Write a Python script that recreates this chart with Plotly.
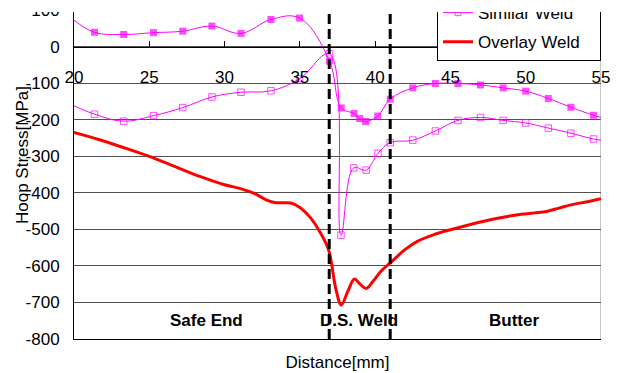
import plotly.graph_objects as go

# ---------------- data ----------------
x_range = [20, 55]
y_range = [-800, 100]
x_tick_vals = [20, 25, 30, 35, 40, 45, 50, 55]
x_tick_labels = ["20", "25", "30", "35", "40", "45", "50", "55"]
y_tick_vals = [100, 0, -100, -200, -300, -400, -500, -600, -700, -800]
y_tick_labels = ["100", "0", "-100", "-200", "-300", "-400", "-500", "-600", "-700", "-800"]

# filled-square series (its legend entry is cut off in the reference)
dissimilar_x = [20, 21.36, 23.3, 25.28, 27.22, 29.16, 31.09, 33.08, 34.98, 36.97, 37.75,
                38.6, 38.97, 39.37, 40.17, 41.0, 42.5, 44.0, 45.5, 47.0, 48.5, 50.0,
                51.5, 53.0, 54.5, 55.0]
dissimilar_y = [72, 39, 33, 38, 42, 56, 36, 74, 78, -40, -168,
                -183, -197, -205, -190, -144, -113, -101, -101, -105, -113, -122,
                -142, -166, -188, -194]

similar_x = [20, 21.36, 23.3, 25.28, 27.22, 29.16, 31.09, 33.08, 34.98, 36.97, 37.73,
             38.57, 39.4, 40.19, 41.0, 42.5, 44.0, 45.5, 47.0, 48.5, 50.0, 51.5,
             53.0, 54.5, 55.0]
similar_y = [-162, -185, -204, -189, -167, -138, -125, -121, -88, -20, -516,
             -332, -338, -292, -263, -256, -231, -202, -194, -202, -209, -223,
             -237, -253, -256]

overlay_x = [20, 21.7, 23.4, 25.1, 26.8, 28.4, 30.0, 31.0, 32.0, 32.8, 33.4, 34.4,
             35.0, 35.7, 36.3, 36.9, 37.4, 37.75, 38.2, 38.62, 39.0, 39.4, 39.9,
             40.4, 41.0, 42.0, 42.8, 44.0, 45.2, 46.4, 47.5, 48.6, 49.7, 50.6,
             51.4, 52.2, 53.0, 54.0, 55.0]
overlay_y = [-235, -255, -278, -302, -330, -356, -378, -388, -402, -420, -427, -428,
             -440, -468, -505, -555, -665, -707, -668, -636, -650, -662, -640,
             -614, -592, -555, -533, -513, -499, -486, -475, -466, -459, -455,
             -451, -442, -433, -425, -416]

zone_bounds = [36.95, 41.0]
zone_labels = ["Safe End", "D.S. Weld", "Butter"]
zone_label_x = [28.8, 38.9, 49.2]
zone_label_y = -750

# ---------------- layout geometry ----------------
W, H = 622, 373
ML, MR, MT, MB = 74, 21, 10, 34
PW, PH = W - ML - MR, H - MT - MB

FONT = "Liberation Sans, Arial, sans-serif"
MAGENTA = "#FF00FF"
RED = "#FF0000"


def px_to_paper_x(px):
    return (px - ML) / PW


def px_to_paper_y(py):
    return (H - MB - py) / PH


def edge_sizes(n, s):
    return [0] + [s] * (n - 2) + [0]


fig = go.Figure()

fig.add_trace(go.Scatter(
    x=dissimilar_x, y=dissimilar_y, name="Dissimilar Weld", legendgroup="g0",
    mode="lines+markers",
    line=dict(color=MAGENTA, width=1, shape="spline", smoothing=1.1),
    marker=dict(symbol="square", size=edge_sizes(len(dissimilar_x), 7), color=MAGENTA,
                line=dict(width=0)),
))

fig.add_trace(go.Scatter(
    x=similar_x, y=similar_y, name="Similar Weld", legendgroup="g1",
    mode="lines+markers",
    line=dict(color=MAGENTA, width=1, shape="spline", smoothing=1.1),
    marker=dict(symbol="square-open", size=edge_sizes(len(similar_x), 6.5), color=MAGENTA,
                line=dict(width=1)),
))

fig.add_trace(go.Scatter(
    x=overlay_x, y=overlay_y, name="Overlay Weld", xaxis="x2", legendgroup="g2",
    mode="lines",
    line=dict(color=RED, width=3, shape="spline", smoothing=1),
))

# zone boundaries (dashed vertical lines)
for xb in zone_bounds:
    fig.add_shape(type="line", xref="x", yref="paper", x0=xb, x1=xb, y0=0, y1=1,
                  line=dict(color="black", width=3, dash="10px,5px"), layer="above")

# right frame border
fig.add_shape(type="line", xref="x", yref="paper", x0=x_range[1], x1=x_range[1], y0=0, y1=1,
              line=dict(color="#b4b4b4", width=1.5), layer="below")

# zone labels
for lab, lx in zip(zone_labels, zone_label_x):
    fig.add_annotation(x=lx, y=zone_label_y, xref="x", yref="y", text=lab, showarrow=False,
                       font=dict(family=FONT, size=17, color="black", weight="bold"))

# y axis title
fig.add_annotation(x=px_to_paper_x(22), y=px_to_paper_y(155), xref="paper", yref="paper",
                   xanchor="center", yanchor="middle",
                   text="Hoop Stress[MPa]", textangle=-90, showarrow=False,
                   font=dict(family=FONT, size=17, color="black"))

# white band at the top (the reference picture is cropped there)
fig.add_annotation(x=px_to_paper_x(0), y=px_to_paper_y(0), xref="paper", yref="paper",
                   xanchor="left", yanchor="top", text=".", showarrow=False,
                   font=dict(size=6, color="white"),
                   width=W, height=12, bgcolor="white", borderpad=0, borderwidth=0)

zero_pos = (0 - y_range[0]) / (y_range[1] - y_range[0])

fig.update_layout(
    width=W, height=H,
    margin=dict(l=ML, r=MR, t=MT, b=MB, autoexpand=False),
    paper_bgcolor="white", plot_bgcolor="white",
    font=dict(family=FONT, size=16, color="black"),
    showlegend=True,
    legend=dict(x=1, xanchor="right", y=px_to_paper_y(61), yanchor="bottom",
                bgcolor="white", bordercolor="black", borderwidth=1,
                font=dict(family=FONT, size=17, color="black"),
                traceorder="grouped", tracegroupgap=4),
    xaxis=dict(range=x_range, showticklabels=False, ticks="", showgrid=False,
               zeroline=False, showline=True, linecolor="black", linewidth=1,
               title=dict(text="Distance[mm]", standoff=17,
                          font=dict(family=FONT, size=17, color="black"))),
    xaxis2=dict(range=x_range, overlaying="x", anchor="free", position=zero_pos,
                side="bottom", tickvals=x_tick_vals, ticktext=x_tick_labels,
                ticks="inside", ticklen=6, tickcolor="black", tickwidth=1,
                showline=True, linecolor="black", linewidth=1, showgrid=False,
                zeroline=False, ticklabelstandoff=15,
                tickfont=dict(family=FONT, size=17, color="black")),
    yaxis=dict(range=y_range, tickvals=y_tick_vals, ticktext=y_tick_labels,
               ticks="", showline=True, linecolor="black", linewidth=1,
               showgrid=True, gridcolor="#505050", gridwidth=1, zeroline=False,
               ticklabelstandoff=10,
               tickfont=dict(family=FONT, size=17, color="black")),
)

fig.write_html("out.html", config={"displayModeBar": False},
               post_script="document.body.style.margin='0px';document.body.style.padding='0px';")
